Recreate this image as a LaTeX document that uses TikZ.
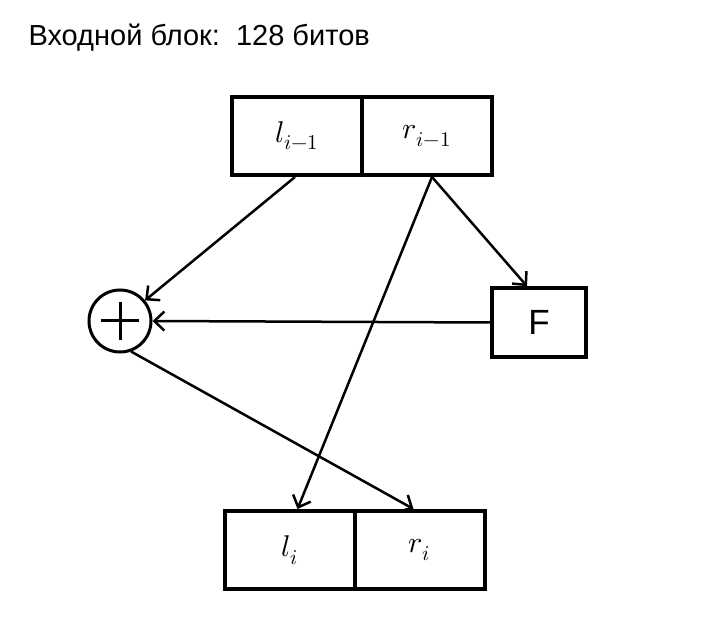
\documentclass[tikz,border=0pt]{standalone}
\usepackage{unicode-math}
\setmainfont{Liberation Sans}
\setmathfont{Latin Modern Math}
\usetikzlibrary{arrows.meta}
\begin{document}
\begin{tikzpicture}[x=1pt,y=-1pt,
  caja/.style={draw,line width=4pt,minimum width=130pt,minimum height=78pt,inner sep=0pt,font=\fontsize{30}{34}\selectfont},
  flecha/.style={line width=2.5pt,-{Straight Barb[length=10pt,width=19pt,line width=2.5pt]}}]
        \useasboundingbox (0,0) rectangle (702,636);
        \node[anchor=west,font=\fontsize{29}{34}\selectfont] (titulo) at (25,38) {Входной блок:\ \ 128 битов}; % titulo
        \node[caja] (l1) at (297,136) {$l_{i-1}$}; % bloque de entrada
        \node[caja] (r1) at (427,136) {$r_{i-1}$};
        \node[caja] (l2) at (289.5,550) {$l_i$}; % bloque de salida
        \node[caja] (r2) at (419.5,550) {$r_i$};
        \node[draw,line width=3.5pt,minimum width=94pt,minimum height=69pt,font=\fontsize{35}{40}\selectfont] (F) at (539,322.5) {F};
        \node[circle,draw,line width=3pt,minimum size=62pt] (xor) at (120,321) {}; % suma
        \draw[line width=3pt] ([xshift=-19pt]xor.center) -- ([xshift=19pt]xor.center);
        \draw[line width=3pt] ([yshift=-19pt]xor.center) -- ([yshift=19pt]xor.center);
        \coordinate (sal) at ([xshift=5pt]r1.south);
        \draw[flecha] ([xshift=-2pt]l1.south) -- (xor);
        \draw[flecha] (sal) -- ([xshift=-12pt]F.north);
        \draw[flecha] (sal) -- ([xshift=8pt]l2.north);
        \draw[flecha] (F.west) -- (xor.east);
        \draw[flecha] (xor.-70) -- ([xshift=-6pt]r2.north);
\end{tikzpicture}
\end{document}
